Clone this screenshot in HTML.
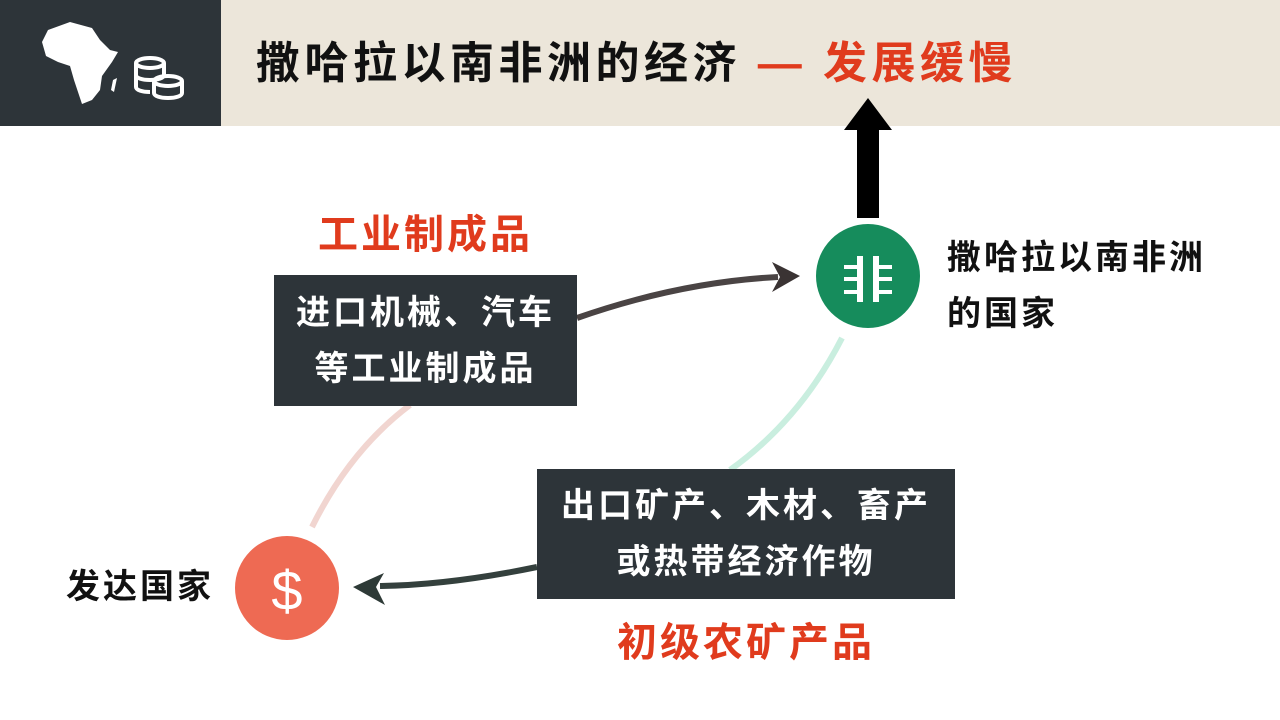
<!DOCTYPE html>
<html><head><meta charset="utf-8"><style>
body{margin:0;width:1280px;height:720px;background:#fff;position:relative;overflow:hidden;font-family:"Liberation Sans","Noto Sans CJK SC",sans-serif;font-weight:bold}
.a{position:absolute;white-space:nowrap}
.box{position:absolute;background:#2d3439;color:#fff;font-size:34px;letter-spacing:3px;line-height:56px;text-align:center;display:flex;align-items:center;justify-content:center}
</style></head><body>
<div class="a" style="left:0;top:0;width:221px;height:126px;background:#2d3439"></div>
<div class="a" style="left:221px;top:0;width:1059px;height:126px;background:#ece6da"></div>
<svg class="a" style="left:0;top:0" width="230" height="130">
<path d="M48 30 L70 22 L92 28 L100 40 L110 50 L118 52 L112 62 L102 76 L100 90 L92 100 L82 104 L78 92 L74 80 L70 66 L58 62 L46 56 L42 42 Z" fill="#fff"/>
<path d="M113 80 L117 78 L114 92 L111 90Z" fill="#fff"/>
<g fill="none" stroke="#fff" stroke-width="4"><ellipse cx="150" cy="63" rx="14" ry="5"/><path d="M136 63v12c0 3 6 5 14 5s14-2 14-5V63"/><path d="M136 75v12c0 3 6 5 14 5"/><ellipse cx="168" cy="81" rx="14" ry="5"/><path d="M154 81v12c0 3 6 5 14 5s14-2 14-5V81"/></g>
</svg>
<div class="a" style="left:256px;top:34px;font-size:44px;letter-spacing:4.5px;line-height:60px;color:#111">撒哈拉以南非洲的经济 <span style="color:#e03b1d">— 发展缓慢</span></div>
<svg class="a" style="left:0;top:0" width="1280" height="720">
<polygon points="868,98 892,130 879,130 879,218 857,218 857,130 844,130" fill="#000"/>
<path d="M312 527 Q350 450 410 405" stroke="#f1d5d0" stroke-width="6" fill="none"/>
<path d="M577 318 Q680 282 778 277" stroke="#4a4444" stroke-width="6" fill="none"/>
<polygon points="800,276 772,262 780,277 772,292" fill="#3a3333"/>
<path d="M842 338 Q800 420 730 470" stroke="#c9eedf" stroke-width="6" fill="none"/>
<path d="M537 567 Q450 585 380 586" stroke="#34403d" stroke-width="6" fill="none"/>
<polygon points="353,587 384,573 376,587 385,605" fill="#2e3a37"/>
<circle cx="868" cy="276" r="52" fill="#168c5c"/>
<circle cx="287" cy="588" r="52" fill="#ee6a53"/>
<g fill="#fff"><rect x="857" y="256" width="6" height="46"/><rect x="873" y="256" width="6" height="46"/>
<rect x="844" y="265" width="13" height="4"/><rect x="844" y="277" width="13" height="4"/><rect x="844" y="290" width="13" height="4"/>
<rect x="879" y="265" width="13" height="4"/><rect x="879" y="277" width="13" height="4"/><rect x="879" y="290" width="13" height="4"/></g>
<text x="287" y="610" font-size="56" fill="#fff" text-anchor="middle" font-family="Liberation Sans" font-weight="normal">$</text>
</svg>
<div class="box" style="left:274px;top:275px;width:303px;height:131px">进口机械、汽车<br>等工业制成品</div>
<div class="box" style="left:537px;top:469px;width:418px;height:130px">出口矿产、木材、畜产<br>或热带经济作物</div>
<div class="a" style="left:318px;top:202px;font-size:40px;letter-spacing:3px;color:#e03b1d">工业制成品</div>
<div class="a" style="left:617px;top:610px;font-size:40px;letter-spacing:3px;color:#e03b1d">初级农矿产品</div>
<div class="a" style="left:947px;top:230px;font-size:34px;letter-spacing:3px;line-height:56px;color:#111">撒哈拉以南非洲<br>的国家</div>
<div class="a" style="left:66px;top:562px;font-size:34px;letter-spacing:3px;line-height:50px;color:#111">发达国家</div>
</body></html>
